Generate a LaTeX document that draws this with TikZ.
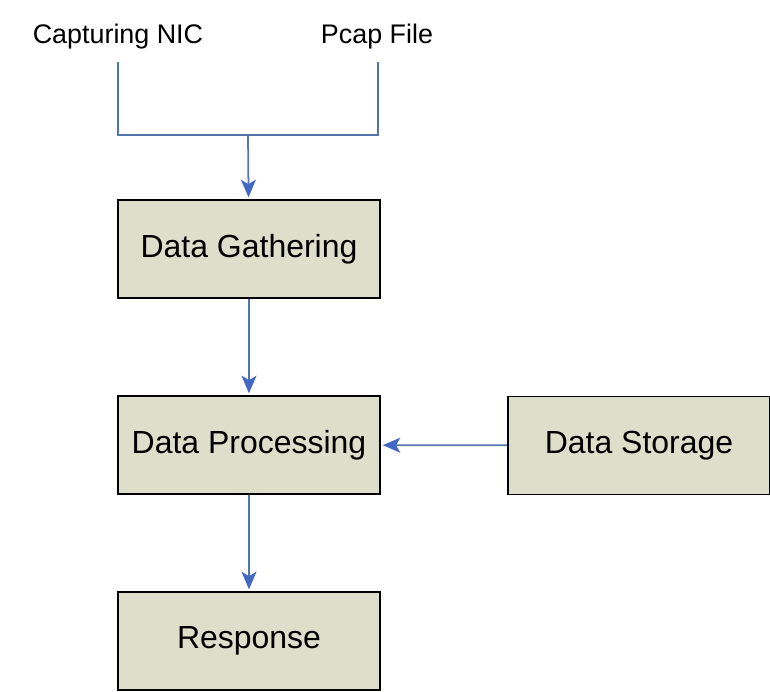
\documentclass[tikz,border=0pt]{standalone}
\usepackage{fontspec}
\setmainfont{Liberation Sans}
\usetikzlibrary{arrows.meta}
\definecolor{boxfill}{RGB}{221,223,203}
\definecolor{linkblue}{RGB}{84,116,172}
\definecolor{tipblue}{RGB}{66,104,196}

\tikzset{
  stage/.style={draw=black, line width=1.1pt, fill=boxfill, minimum width=5.24cm, minimum height=1.96cm, inner sep=0pt, font=\fontsize{18.2}{22}\selectfont},
  source/.style={inner sep=0pt, font=\fontsize{15.3}{19}\selectfont},
  link/.style={draw=linkblue, line width=1pt},
  flow/.style={link, -{Stealth[length=10pt, width=8.5pt, inset=2.5pt, color=tipblue]}, shorten >=1pt}
}

\begin{document}
\begin{tikzpicture}[x=0.02cm, y=-0.02cm]
    \useasboundingbox (0,0) rectangle (770,691);

    % Inputs
    \node[source] (nic) at (118,37) {Capturing NIC};
    \node[source] (pcap) at (377,37) {Pcap File};
    \coordinate (nicend) at (118,135);
    \coordinate (pcapend) at (378,135);
    \coordinate (join) at (248,135);

    % Stages
    \node[stage] (gather) at (249,249) {Data Gathering};
    \node[stage] (process) at (249,445) {Data Processing};
    \node[stage] (storage) at (639,445.5) {Data Storage};
    \node[stage] (response) at (249,641) {Response};

    % Connectors
    \draw[link] (118,62) -- (nicend) -- (pcapend) -- (378,62);
    \draw[flow] (join) -- (gather);
    \draw[flow] (gather) -- (process);
    \draw[flow] (storage) -- (process);
    \draw[flow] (process) -- (response);
\end{tikzpicture}
\end{document}
